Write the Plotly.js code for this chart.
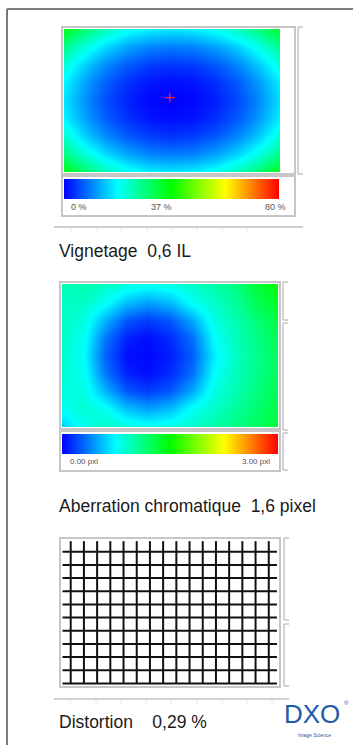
<!DOCTYPE html>
<html><head><meta charset="utf-8">
<script src="https://cdn.plot.ly/plotly-3.0.1.min.js"></script>
<style>html,body{margin:0;padding:0;background:#fff;overflow:hidden}#chart{width:353px;height:745px}</style>
</head><body><div id="chart"></div>
<script>
const W = 353, H = 745;

// ---- Vignetting field (% light fall-off), rows top -> bottom ----
const vigX = [0, 0.1, 0.2, 0.3, 0.4, 0.5, 0.6, 0.7, 0.8, 0.9, 1];
const vigY = [0, 0.125, 0.25, 0.375, 0.5, 0.625, 0.75, 0.875, 1];
const vigZ = [
  [38, 31, 25, 21, 19, 18, 19, 21, 25, 30, 37],
  [29, 22, 16.5, 12.6, 10.3, 9.6, 10.3, 12.5, 16, 21.5, 28.5],
  [23, 15.8, 10.5, 6.8, 4.6, 3.9, 4.6, 6.7, 10.3, 15.5, 22.5],
  [19.2, 12.2, 7, 3.5, 1.5, 0.9, 1.5, 3.4, 6.8, 11.8, 18.6],
  [18, 11, 5.9, 2.4, 0.5, 0, 0.5, 2.3, 5.7, 10.6, 17.5],
  [19.2, 12.2, 7, 3.5, 1.5, 0.9, 1.5, 3.4, 6.8, 11.8, 18.8],
  [23.5, 16, 10.6, 6.8, 4.6, 3.9, 4.6, 6.8, 10.4, 15.6, 23],
  [30, 22.5, 16.8, 12.8, 10.4, 9.7, 10.4, 12.7, 16.5, 22, 29.5],
  [39, 31.5, 25.5, 21.3, 19, 18.2, 19, 21.3, 25.4, 31, 38.5]
];
const vigRange = [0, 80];
const vigLabels = ['0 %', '37 %', '80 %'];
const opticalCenter = {x: [0.49], y: [0.48]};

// ---- Lateral chromatic aberration field (pixels), rows top -> bottom ----
const caX = [0, 0.1, 0.2, 0.3, 0.4, 0.5, 0.6, 0.7, 0.8, 0.9, 1];
const caY = [0, 0.125, 0.25, 0.375, 0.5, 0.625, 0.75, 0.875, 1];
const caZ = [
  [0.95, 1.0, 0.93, 0.85, 0.81, 0.84, 0.91, 1.01, 1.12, 1.34, 1.48],
  [0.93, 0.92, 0.79, 0.57, 0.48, 0.56, 0.78, 0.91, 1.04, 1.25, 1.4],
  [0.92, 0.84, 0.53, 0.25, 0.18, 0.26, 0.5, 0.82, 0.98, 1.15, 1.32],
  [0.91, 0.78, 0.35, 0.09, 0.04, 0.12, 0.32, 0.74, 0.94, 1.1, 1.26],
  [0.9, 0.75, 0.29, 0.04, 0.02, 0.08, 0.27, 0.68, 0.92, 1.08, 1.24],
  [0.88, 0.78, 0.35, 0.09, 0.04, 0.12, 0.32, 0.74, 0.94, 1.09, 1.24],
  [0.85, 0.84, 0.53, 0.25, 0.18, 0.26, 0.5, 0.82, 0.98, 1.12, 1.26],
  [0.78, 0.88, 0.79, 0.57, 0.48, 0.56, 0.78, 0.91, 1.04, 1.17, 1.3],
  [0.6, 0.8, 0.93, 0.85, 0.81, 0.84, 0.91, 1.01, 1.11, 1.22, 1.33]
];
const caRange = [0, 3];
const caLabels = ['0.00 pxl', '3.00 pxl'];

// ---- Distortion test grid (line indices) ----
const gridCols = [0, 1, 2, 3, 4, 5, 6, 7, 8, 9, 10, 11, 12, 13, 14, 15];
const gridRows = [0, 1, 2, 3, 4, 5, 6, 7, 8, 9, 10];

// ---- Headline measurements ----
const titles = ['Vignetage\u00a0\u00a00,6 IL', 'Aberration chromatique\u00a0\u00a01,6 pixel', 'Distortion\u00a0\u00a0\u00a0\u00a00,29 %'];

const jet = [[0, '#0000ff'], [0.25, '#00ffff'], [0.5, '#00ff00'], [0.75, '#ffff00'], [1, '#ff0000']];
const px = x => x / W, py = y => 1 - y / H;
const SANS = '"Liberation Sans", Arial, sans-serif';

function cbar(x0, x1, ytop) {
  return {orientation: 'h', x: px((x0 + x1) / 2), xanchor: 'center', y: py(ytop), yanchor: 'top',
    len: (x1 - x0) / W, lenmode: 'fraction', thickness: 20, thicknessmode: 'pixels',
    xpad: 0, ypad: 0, outlinewidth: 0, borderwidth: 0, showticklabels: false, ticks: ''};
}

const gx = [], gy = [];
gridCols.forEach(c => { gx.push(c, c, null); gy.push(-0.8, 10, null); });
gridRows.forEach(r => { gx.push(-0.62, 15.62, null); gy.push(r, r, null); });

const data = [
  {type: 'heatmap', x: vigX, y: vigY, z: vigZ, zmin: vigRange[0], zmax: vigRange[1], zsmooth: 'best',
   colorscale: jet, xaxis: 'x', yaxis: 'y', hoverinfo: 'skip', colorbar: cbar(64, 279, 179)},
  {type: 'scatter', mode: 'markers', x: opticalCenter.x, y: opticalCenter.y, xaxis: 'x', yaxis: 'y',
   marker: {symbol: 'cross-thin', size: 7, line: {color: '#ff2040', width: 1.2}}, hoverinfo: 'skip', showlegend: false},
  {type: 'heatmap', x: caX, y: caY, z: caZ, zmin: caRange[0], zmax: caRange[1], zsmooth: 'best',
   colorscale: jet, xaxis: 'x2', yaxis: 'y2', hoverinfo: 'skip', colorbar: cbar(62, 278, 434)},
  {type: 'scatter', mode: 'lines', x: gx, y: gy, xaxis: 'x3', yaxis: 'y3', connectgaps: false,
   line: {color: '#111', width: 2}, hoverinfo: 'skip', showlegend: false}
];

const ax = (d, r) => ({domain: d, range: r, visible: false, fixedrange: true});

const shapes = [];
function line(x0, y0, x1, y1, color, width) {
  shapes.push({type: 'line', xref: 'paper', yref: 'paper', x0: px(x0), y0: py(y0), x1: px(x1), y1: py(y1),
    line: {color: color, width: width}});
}
function rect(x0, y0, x1, y1, color, width) {
  shapes.push({type: 'rect', xref: 'paper', yref: 'paper', x0: px(x0), y0: py(y0), x1: px(x1), y1: py(y1),
    line: {color: color, width: width}, fillcolor: 'rgba(0,0,0,0)'});
}
function bracket(x, y0, y1) {
  const c = '#c4c4c4';
  line(x, y0, x, y1, c, 1.5); line(x, y0, x + 5, y0, c, 1.5); line(x, y1, x + 5, y1, c, 1.5);
}
const BOX = '#c6c6c6';
// outer frame
line(7, 9, 7, 745, '#7a7a7a', 2); line(7, 9, 353, 9, '#7a7a7a', 2);
// panel 1
rect(62, 27, 295, 174, BOX, 2); rect(62, 176, 295, 216, BOX, 2); bracket(298, 27, 174);
line(54, 227, 303, 227, '#cfcfcf', 2);
[71, 97, 121, 147, 172, 197, 222, 247].forEach(x => line(x, 228, x, 232, '#ececec', 1));
// panel 2
rect(60, 282, 280, 429, BOX, 2); rect(60, 431, 280, 471, BOX, 2);
bracket(283, 282, 320); bracket(283, 323, 430); bracket(283, 433, 470);
// panel 3
rect(60, 538, 280, 687, BOX, 2); bracket(284, 538, 620); bracket(284, 624, 686);
line(54, 699, 289, 699, '#d0d0d0', 2);
[70, 96, 121, 146, 171, 197, 222, 247, 272].forEach(x => line(x, 700, x, 704, '#e8e8e8', 1));

const ann = (text, x, y, xanchor, size, color) => ({text: text, x: px(x), y: py(y), xref: 'paper', yref: 'paper',
  xanchor: xanchor, yanchor: 'middle', showarrow: false, borderpad: 0, font: {size: size, color: color, family: SANS}});

const annotations = [
  ann(vigLabels[0], 70, 207, 'left', 9, '#555'),
  ann(vigLabels[1], 161, 207, 'center', 9, '#555'),
  ann(vigLabels[2], 287, 207, 'right', 9, '#555'),
  ann(caLabels[0], 69, 462, 'left', 8, '#5a4a5a'),
  ann(caLabels[1], 271, 462, 'right', 8, '#5a4a5a'),
  ann(titles[0], 58, 251, 'left', 17.5, '#1a1a1a'),
  ann(titles[1], 58, 506, 'left', 17.5, '#1a1a1a'),
  ann(titles[2], 58, 722, 'left', 17.5, '#1a1a1a'),
  ann('DXO', 312, 714, 'center', 26, '#1f5ca8'),
  ann('Image Science', 314, 735, 'center', 5, '#1f5ca8'),
  ann('®', 346, 703, 'center', 6, '#1f5ca8')
];

const layout = {
  width: W, height: H, autosize: false, margin: {l: 0, r: 0, t: 0, b: 0, pad: 0},
  paper_bgcolor: '#fff', plot_bgcolor: '#fff', showlegend: false,
  xaxis: ax([px(64), px(280)], [0, 1]), yaxis: ax([py(172), py(29)], [1, 0]),
  xaxis2: ax([px(62), px(278)], [0, 1]), yaxis2: ax([py(427), py(284)], [1, 0]),
  xaxis3: ax([px(62), px(278)], [-0.66, 15.7]), yaxis3: ax([py(687), py(538)], [10.27, -1.04]),
  shapes: shapes, annotations: annotations
};

Plotly.newPlot('chart', data, layout, {staticPlot: true, displayModeBar: false});
</script>
</body></html>
